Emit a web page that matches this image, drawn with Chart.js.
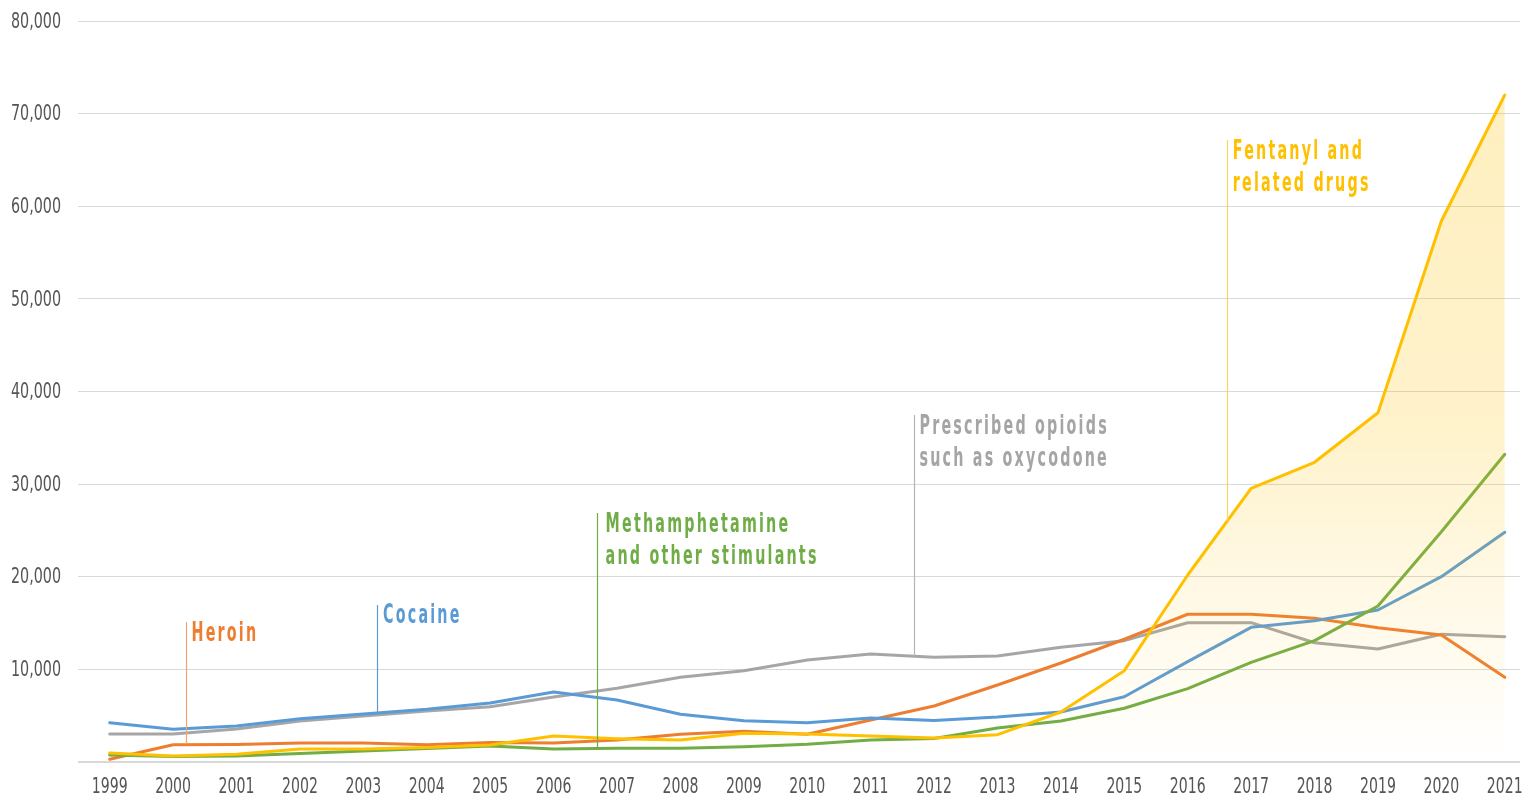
<!DOCTYPE html>
<html>
<head>
<meta charset="utf-8">
<script src="https://cdn.jsdelivr.net/npm/chart.js@4/dist/chart.umd.min.js"></script>
<style>
html,body{margin:0;padding:0;background:#fff;}
#wrap{width:1527px;height:796px;position:relative;}
</style>
</head>
<body>
<div id="wrap"><canvas id="c"></canvas></div>
<script>
// ---- data ----
const years = [1999,2000,2001,2002,2003,2004,2005,2006,2007,2008,2009,2010,2011,2012,2013,2014,2015,2016,2017,2018,2019,2020,2021];
const fentanyl   = [970,650,830,1400,1400,1570,1840,2810,2520,2380,3100,3020,2810,2590,2950,5400,9860,20190,29550,32360,37710,58410,72010];
const meth       = [760,590,650,920,1190,1460,1730,1400,1480,1480,1650,1910,2380,2540,3670,4430,5800,7920,10760,13100,16840,24860,33220];
const cocaine    = [4240,3530,3890,4680,5180,5690,6370,7560,6690,5150,4460,4240,4750,4480,4860,5400,7050,10830,14540,15260,16410,20010,24800];
const heroin     = [300,1870,1890,2050,2050,1870,2100,2050,2380,2990,3310,2990,4530,6050,8310,10690,13250,15950,15950,15510,14500,13710,9140];
const prescribed = [3020,3020,3560,4430,4970,5500,5970,7020,7960,9140,9860,11010,11660,11300,11440,12380,13100,15040,15040,12880,12200,13790,13530];
const yTicks = [10000,20000,30000,40000,50000,60000,70000,80000];
const xTickLabels = years.map(String);

// annotation labels (anchored in data coordinates)
const annotations = [
  {lines:['Heroin'], color:'#ED7D31', lead:'#F4A56E', x:2000.2, top:15100, bottom:1890, tx:2000.29, ty:13060},
  {lines:['Cocaine'], color:'#5B9BD5', lead:'#5B9BD5', x:2003.21, top:16950, bottom:5250, tx:2003.31, ty:15000},
  {lines:['Methamphetamine','and other stimulants'], color:'#70AD47', lead:'#70AD47', x:2006.68, top:26880, bottom:1480, tx:2006.82, ty:24830},
  {lines:['Prescribed opioids','such as oxycodone'], color:'#A5A5A5', lead:'#B5B5B5', x:2011.69, top:37460, bottom:11400, tx:2011.77, ty:35410},
  {lines:['Fentanyl and','related drugs'], color:'#FFC000', lead:'#FFD45A', x:2016.62, top:67150, bottom:26000, tx:2016.71, ty:65100}
];

function pts(arr){ return arr.map((v,i)=>({x:years[i], y:v})); }

const labelPlugin = {
  id:'labels',
  afterDraw(chart){
    const ctx = chart.ctx, xs = chart.scales.x, ys = chart.scales.y;
    ctx.save();
    // y tick labels
    ctx.fillStyle = '#555555';
    ctx.font = '22px "DejaVu Sans"';
    ctx.textBaseline = 'middle';
    yTicks.forEach(v=>{
      const y = ys.getPixelForValue(v);
      const t = v.toLocaleString('en-US');
      ctx.save();
      ctx.translate(61, y+1);
      ctx.scale(0.65,1);
      ctx.textAlign = 'right';
      ctx.fillText(t,0,0);
      ctx.restore();
    });
    // x tick labels
    years.forEach((yr,i)=>{
      const x = xs.getPixelForValue(yr);
      ctx.save();
      ctx.translate(x, 787);
      ctx.scale(0.64,1);
      ctx.textAlign = 'center';
      ctx.fillText(xTickLabels[i],0,0);
      ctx.restore();
    });
    // annotations
    annotations.forEach(a=>{
      const lx = Math.round(xs.getPixelForValue(a.x))+0.5;
      ctx.strokeStyle = a.lead;
      ctx.lineWidth = 1.2;
      ctx.beginPath();
      ctx.moveTo(lx, ys.getPixelForValue(a.top));
      ctx.lineTo(lx, ys.getPixelForValue(a.bottom));
      ctx.stroke();
      const tx = xs.getPixelForValue(a.tx);
      const ty = ys.getPixelForValue(a.ty);
      ctx.fillStyle = a.color;
      ctx.font = 'bold 26px "DejaVu Sans"';
      ctx.textBaseline = 'alphabetic';
      ctx.textAlign = 'left';
      ctx.letterSpacing = '4px';
      a.lines.forEach((ln,k)=>{
        ctx.save();
        ctx.translate(tx, ty + k*31.5);
        ctx.scale(0.55,1);
        ctx.fillText(ln,0,0);
        ctx.restore();
      });
      ctx.letterSpacing = '0px';
    });
    ctx.restore();
  }
};

const ctx = document.getElementById('c');
new Chart(ctx, {
  type:'line',
  data:{
    datasets:[
      {label:'Prescribed opioids', data:pts(prescribed), borderColor:'rgba(150,150,150,0.85)', borderWidth:3, pointRadius:0, fill:false, order:5},
      {label:'Heroin', data:pts(heroin), borderColor:'#ED7D31', borderWidth:3, pointRadius:0, fill:false, order:4},
      {label:'Cocaine', data:pts(cocaine), borderColor:'#5B9BD5', borderWidth:3, pointRadius:0, fill:false, order:3},
      {label:'Methamphetamine', data:pts(meth), borderColor:'#70AD47', borderWidth:3, pointRadius:0, fill:false, order:2},
      {label:'Fentanyl', data:pts(fentanyl), borderColor:'#FFC000', borderWidth:3, pointRadius:0, order:1,
        fill:'origin',
        backgroundColor:(c)=>{
          const ca = c.chart.chartArea;
          if(!ca) return 'rgba(255,192,0,0.25)';
          const g = c.chart.ctx.createLinearGradient(0, ca.top, 0, ca.bottom);
          g.addColorStop(0, 'rgba(255,192,0,0.26)');
          g.addColorStop(0.55, 'rgba(255,192,0,0.20)');
          g.addColorStop(1, 'rgba(255,192,0,0.0)');
          return g;
        }}
    ]
  },
  options:{
    responsive:true,
    maintainAspectRatio:false,
    animation:false,
    layout:{padding:{left:78,right:7,top:21,bottom:34}},
    plugins:{legend:{display:false},tooltip:{enabled:false}},
    elements:{line:{tension:0, borderJoinStyle:'round', borderCapStyle:'round'}},
    scales:{
      x:{type:'linear', min:1998.5, max:2021.24, display:true,
        grid:{display:false, drawTicks:false}, border:{display:false},
        ticks:{display:false}},
      y:{min:0, max:80000, display:true,
        ticks:{display:false, stepSize:10000},
        grid:{color:'#d9d9d9', lineWidth:(c)=> c.tick && c.tick.value===0 ? 2 : 1, drawTicks:false},
        border:{display:false}}
    }
  },
  plugins:[labelPlugin]
});
</script>
</body>
</html>
